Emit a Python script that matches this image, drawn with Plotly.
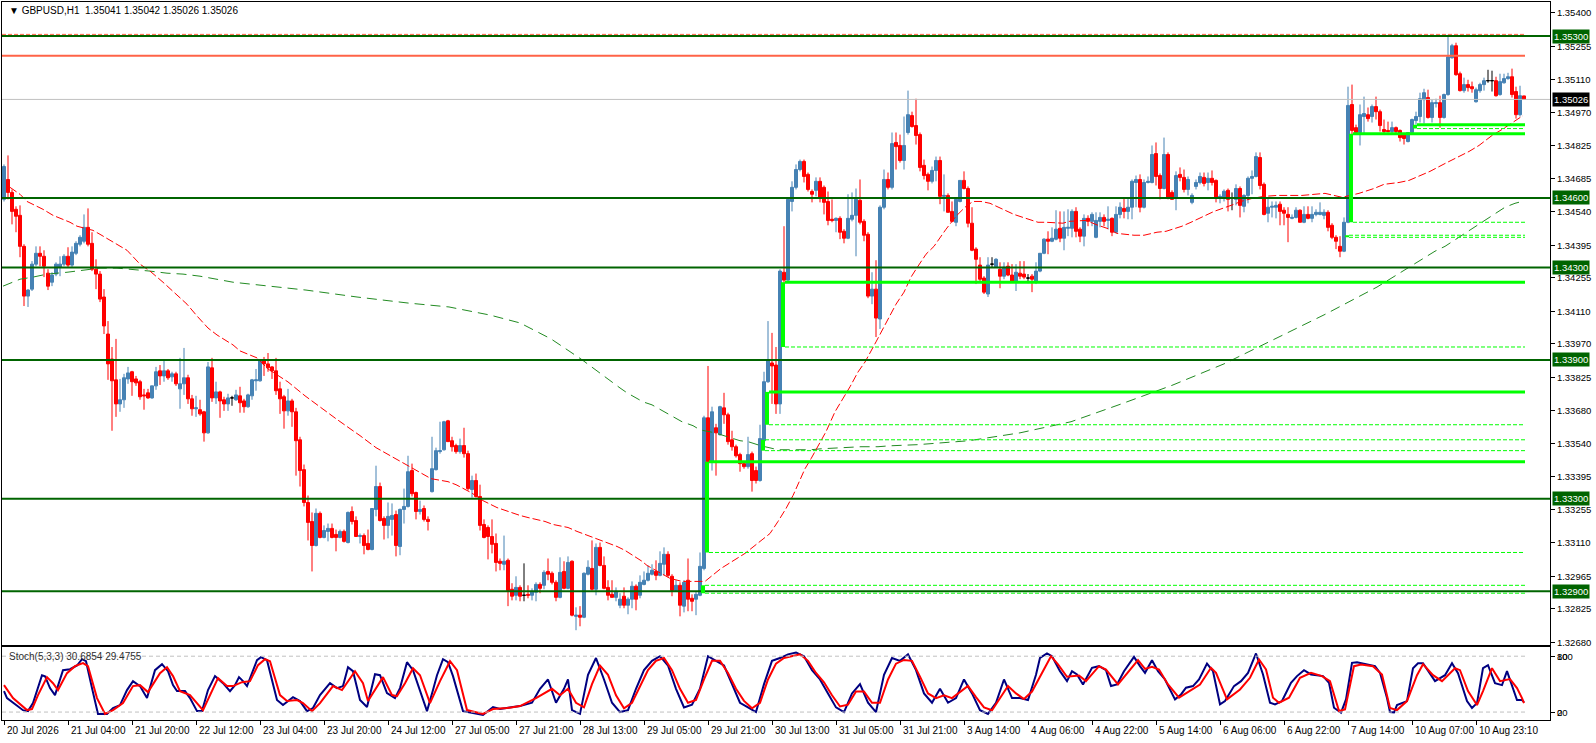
import plotly.graph_objects as go

W, H = 1596, 743

# ---------------- price data (H1 bars, index 0 = 20 Jul 12:00) ----------------
OPEN = [
1.34594,1.34680,1.34624,1.34551,1.34525,1.34391,1.34176,1.34206,1.34314,1.34361,
1.34348,1.34275,1.34236,1.34271,1.34301,1.34314,1.34348,1.34310,1.34361,1.34400,
1.34413,1.34473,1.34404,1.34292,1.34271,1.34172,1.34012,1.33904,1.33814,1.33710,
1.33728,1.33818,1.33849,1.33818,1.33806,1.33749,1.33758,1.33736,1.33788,1.33853,
1.33831,1.33853,1.33827,1.33840,1.33775,1.33797,1.33823,1.33732,1.33689,1.33685,
1.33676,1.33585,1.33866,1.33736,1.33762,1.33728,1.33710,1.33736,1.33728,1.33745,
1.33723,1.33698,1.33745,1.33810,1.33810,1.33896,1.33883,1.33870,1.33853,1.33775,
1.33741,1.33680,1.33723,1.33676,1.33555,1.33426,1.33284,1.33202,1.33098,1.33237,
1.33133,1.33159,1.33172,1.33146,1.33133,1.33159,1.33111,1.33245,1.33206,1.33137,
1.33141,1.33107,1.33081,1.33254,1.33353,1.33215,1.33185,1.33211,1.33232,1.33094,
1.33254,1.33267,1.33422,1.33327,1.33245,1.33258,1.33211,1.33331,1.33426,1.33504,
1.33512,1.33637,1.33551,1.33530,1.33504,1.33530,1.33495,1.33340,1.33379,1.33310,
1.33189,1.33176,1.33137,1.33107,1.33030,1.33017,1.33034,1.32909,1.32883,1.32917,
1.32883,1.32887,1.32883,1.32896,1.32930,1.32926,1.32986,1.32978,1.32939,1.32874,
1.32986,1.32913,1.33030,1.32792,1.32797,1.32788,1.32974,1.32999,1.32909,1.33090,
1.33012,1.32917,1.32887,1.32874,1.32840,1.32879,1.32840,1.32866,1.32922,1.32883,
1.32930,1.32948,1.32974,1.32986,1.32969,1.33017,1.33060,1.32965,1.32904,1.32926,
1.32836,1.32948,1.32870,1.32866,1.32883,1.32999,1.33650,1.33460,1.33607,1.33577,
1.33693,1.33663,1.33555,1.33525,1.33491,1.33452,1.33439,1.33495,1.33422,1.33379,
1.33551,1.33806,1.33887,1.33878,1.33710,1.34279,1.34245,1.34585,1.34646,1.34723,
1.34758,1.34702,1.34628,1.34633,1.34672,1.34646,1.34585,1.34508,1.34503,1.34512,
1.34456,1.34426,1.34508,1.34525,1.34590,1.34499,1.34443,1.34176,1.34206,1.34077,
1.34560,1.34680,1.34646,1.34840,1.34827,1.34762,1.34883,1.34956,1.34913,1.34874,
1.34741,1.34702,1.34672,1.34719,1.34762,1.34607,1.34611,1.34542,1.34495,1.34585,
1.34676,1.34641,1.34491,1.34379,1.34310,1.34254,1.34185,1.34314,1.34301,1.34292,
1.34262,1.34305,1.34267,1.34241,1.34275,1.34271,1.34254,1.34262,1.34241,1.34284,
1.34361,1.34422,1.34413,1.34422,1.34469,1.34426,1.34469,1.34469,1.34542,1.34465,
1.34435,1.34512,1.34499,1.34430,1.34499,1.34516,1.34503,1.34512,1.34452,1.34529,
1.34555,1.34542,1.34560,1.34667,1.34680,1.34560,1.34667,1.34667,1.34792,1.34697,
1.34641,1.34788,1.34624,1.34603,1.34702,1.34689,1.34637,1.34581,1.34650,1.34667,
1.34689,1.34667,1.34685,1.34676,1.34598,1.34598,1.34633,1.34598,1.34594,1.34641,
1.34564,1.34611,1.34685,1.34693,1.34775,1.34659,1.34534,1.34560,1.34560,1.34573,
1.34547,1.34529,1.34512,1.34516,1.34547,1.34495,1.34529,1.34512,1.34529,1.34529,
1.34525,1.34538,1.34482,1.34430,1.34391,1.34370,1.34495,1.35004,1.34904,1.34883,
1.34952,1.34960,1.34952,1.34995,1.34973,1.34896,1.34892,1.34887,1.34904,1.34892,
1.34874,1.34844,1.34883,1.34935,1.34952,1.35025,1.35034,1.34948,1.35008,1.35012,
1.34948,1.35047,1.35206,1.35258,1.35137,1.35064,1.35090,1.35081,1.35016,1.35064,
1.35090,1.35107,1.35107,1.35107,1.35047,1.35098,1.35116,1.35124,1.35060,1.34960,1.35041]

HIGH = [
1.34745,1.34784,1.34637,1.34564,1.34568,1.34400,1.34206,1.34327,1.34391,1.34391,
1.34374,1.34292,1.34279,1.34322,1.34348,1.34357,1.34387,1.34391,1.34413,1.34439,
1.34529,1.34555,1.34452,1.34335,1.34284,1.34206,1.34068,1.33956,1.33991,1.33818,
1.33840,1.33870,1.33853,1.33831,1.33814,1.33775,1.33775,1.33788,1.33870,1.33878,
1.33900,1.33861,1.33849,1.33849,1.33909,1.33952,1.33836,1.33749,1.33745,1.33728,
1.33680,1.33891,1.33909,1.33806,1.33767,1.33741,1.33754,1.33745,1.33771,1.33784,
1.33732,1.33754,1.33818,1.33861,1.33900,1.33913,1.33930,1.33874,1.33909,1.33806,
1.33749,1.33775,1.33732,1.33693,1.33568,1.33448,1.33314,1.33241,1.33258,1.33245,
1.33185,1.33193,1.33193,1.33167,1.33167,1.33167,1.33245,1.33267,1.33224,1.33150,
1.33150,1.33167,1.33258,1.33443,1.33370,1.33224,1.33284,1.33280,1.33249,1.33258,
1.33344,1.33486,1.33452,1.33331,1.33292,1.33271,1.33224,1.33568,1.33521,1.33633,
1.33637,1.33641,1.33568,1.33538,1.33560,1.33607,1.33508,1.33400,1.33409,1.33361,
1.33211,1.33185,1.33211,1.33150,1.33042,1.33141,1.33042,1.32935,1.32965,1.32926,
1.33021,1.32926,1.32913,1.32939,1.32939,1.32991,1.33042,1.32986,1.32948,1.33047,
1.33030,1.33051,1.33034,1.32831,1.32836,1.32982,1.33034,1.33120,1.33107,1.33111,
1.33051,1.32948,1.32948,1.32917,1.32892,1.32917,1.32874,1.32943,1.32930,1.32969,
1.32986,1.33012,1.33017,1.33034,1.33073,1.33090,1.33073,1.32974,1.32948,1.32939,
1.32948,1.33042,1.32887,1.32900,1.33068,1.33659,1.33874,1.33698,1.33624,1.33702,
1.33758,1.33672,1.33594,1.33534,1.33499,1.33460,1.33568,1.33504,1.33439,1.33620,
1.33849,1.34068,1.34017,1.33956,1.34292,1.34478,1.34603,1.34672,1.34745,1.34766,
1.34766,1.34710,1.34637,1.34689,1.34689,1.34654,1.34628,1.34594,1.34516,1.34521,
1.34465,1.34616,1.34624,1.34641,1.34680,1.34508,1.34452,1.34279,1.34331,1.34568,
1.34723,1.34710,1.34883,1.34883,1.34874,1.34952,1.35064,1.34973,1.35029,1.34883,
1.34766,1.34710,1.34736,1.34779,1.34779,1.34702,1.34620,1.34585,1.34603,1.34676,
1.34715,1.34650,1.34560,1.34387,1.34344,1.34262,1.34344,1.34344,1.34340,1.34322,
1.34322,1.34322,1.34314,1.34314,1.34327,1.34327,1.34271,1.34271,1.34322,1.34361,
1.34426,1.34456,1.34473,1.34547,1.34542,1.34542,1.34551,1.34551,1.34560,1.34473,
1.34529,1.34525,1.34538,1.34538,1.34538,1.34529,1.34564,1.34516,1.34564,1.34581,
1.34598,1.34603,1.34680,1.34697,1.34702,1.34680,1.34693,1.34827,1.34840,1.34706,
1.34861,1.34797,1.34633,1.34715,1.34732,1.34723,1.34693,1.34620,1.34680,1.34710,
1.34710,1.34710,1.34719,1.34680,1.34616,1.34637,1.34641,1.34624,1.34659,1.34650,
1.34616,1.34693,1.34719,1.34797,1.34797,1.34667,1.34603,1.34585,1.34585,1.34585,
1.34560,1.34560,1.34529,1.34560,1.34551,1.34564,1.34564,1.34564,1.34551,1.34581,
1.34551,1.34547,1.34491,1.34439,1.34435,1.34516,1.35081,1.35090,1.34917,1.35004,
1.35038,1.34991,1.35004,1.35038,1.34982,1.34939,1.34930,1.34930,1.34909,1.34896,
1.34878,1.34883,1.34943,1.34973,1.35055,1.35072,1.35068,1.35025,1.35029,1.35042,
1.35051,1.35305,1.35266,1.35271,1.35146,1.35120,1.35111,1.35103,1.35077,1.35098,
1.35120,1.35154,1.35150,1.35124,1.35137,1.35137,1.35141,1.35159,1.35081,1.35085,1.35042]

LOW = [
1.34585,1.34594,1.34486,1.34452,1.34344,1.34133,1.34129,1.34198,1.34305,1.34305,
1.34258,1.34202,1.34219,1.34262,1.34262,1.34305,1.34301,1.34301,1.34353,1.34391,
1.34404,1.34391,1.34284,1.34206,1.34150,1.34012,1.33814,1.33594,1.33654,1.33676,
1.33693,1.33797,1.33745,1.33788,1.33728,1.33685,1.33732,1.33732,1.33771,1.33792,
1.33806,1.33814,1.33806,1.33788,1.33689,1.33749,1.33710,1.33659,1.33654,1.33659,
1.33547,1.33581,1.33719,1.33710,1.33650,1.33680,1.33680,1.33702,1.33723,1.33672,
1.33672,1.33693,1.33728,1.33767,1.33806,1.33831,1.33849,1.33818,1.33749,1.33667,
1.33603,1.33659,1.33611,1.33400,1.33353,1.33267,1.33120,1.32986,1.33094,1.33129,
1.33129,1.33116,1.33129,1.33073,1.33129,1.33111,1.33107,1.33189,1.33137,1.33107,
1.33060,1.33077,1.33077,1.33224,1.33202,1.33124,1.33129,1.33141,1.33051,1.33056,
1.33193,1.33262,1.33310,1.33211,1.33232,1.33202,1.33163,1.33327,1.33422,1.33495,
1.33508,1.33547,1.33504,1.33495,1.33495,1.33478,1.33336,1.33305,1.33305,1.33163,
1.33129,1.33038,1.33064,1.32986,1.32991,1.32991,1.32836,1.32861,1.32861,1.32857,
1.32857,1.32870,1.32861,1.32857,1.32892,1.32909,1.32948,1.32930,1.32857,1.32870,
1.32909,1.32909,1.32792,1.32732,1.32749,1.32784,1.32969,1.32904,1.32883,1.33008,
1.32909,1.32861,1.32874,1.32857,1.32827,1.32827,1.32801,1.32827,1.32818,1.32870,
1.32926,1.32943,1.32969,1.32948,1.32965,1.32969,1.32961,1.32879,1.32900,1.32792,
1.32809,1.32814,1.32814,1.32797,1.32879,1.32991,1.33422,1.33422,1.33400,1.33573,
1.33624,1.33534,1.33508,1.33478,1.33417,1.33430,1.33430,1.33331,1.33366,1.33374,
1.33547,1.33801,1.33710,1.33667,1.33667,1.34228,1.34236,1.34542,1.34637,1.34715,
1.34667,1.34628,1.34581,1.34607,1.34581,1.34529,1.34482,1.34495,1.34452,1.34422,
1.34404,1.34422,1.34499,1.34348,1.34486,1.34413,1.34167,1.34141,1.33999,1.34034,
1.34551,1.34637,1.34637,1.34723,1.34753,1.34723,1.34874,1.34904,1.34831,1.34715,
1.34680,1.34633,1.34663,1.34672,1.34573,1.34542,1.34538,1.34495,1.34478,1.34581,
1.34637,1.34473,1.34370,1.34228,1.34236,1.34185,1.34172,1.34301,1.34301,1.34210,
1.34249,1.34262,1.34236,1.34198,1.34249,1.34249,1.34232,1.34193,1.34228,1.34279,
1.34357,1.34357,1.34409,1.34417,1.34409,1.34374,1.34435,1.34430,1.34430,1.34409,
1.34391,1.34478,1.34478,1.34426,1.34473,1.34478,1.34465,1.34435,1.34447,1.34512,
1.34512,1.34508,1.34508,1.34560,1.34538,1.34555,1.34663,1.34663,1.34654,1.34594,
1.34637,1.34594,1.34594,1.34547,1.34672,1.34624,1.34611,1.34573,1.34637,1.34659,
1.34650,1.34633,1.34654,1.34581,1.34577,1.34585,1.34542,1.34547,1.34568,1.34516,
1.34538,1.34577,1.34616,1.34689,1.34637,1.34525,1.34495,1.34516,1.34512,1.34482,
1.34482,1.34409,1.34508,1.34512,1.34495,1.34491,1.34508,1.34495,1.34521,1.34525,
1.34508,1.34456,1.34422,1.34379,1.34344,1.34366,1.34491,1.34840,1.34874,1.34827,
1.34874,1.34930,1.34926,1.34939,1.34887,1.34878,1.34883,1.34878,1.34874,1.34844,
1.34831,1.34840,1.34874,1.34917,1.34926,1.34922,1.34943,1.34926,1.34991,1.34904,
1.34943,1.35042,1.35202,1.35128,1.35060,1.35055,1.35060,1.35055,1.35012,1.35055,
1.35064,1.35098,1.35060,1.35038,1.35042,1.35094,1.35111,1.35034,1.34943,1.34952,1.35026]

CLOSE = [
1.34736,1.34624,1.34542,1.34521,1.34391,1.34176,1.34202,1.34314,1.34361,1.34348,
1.34305,1.34219,1.34267,1.34314,1.34314,1.34348,1.34310,1.34366,1.34404,1.34430,
1.34473,1.34400,1.34292,1.34271,1.34163,1.34047,1.33883,1.33810,1.33710,1.33728,
1.33823,1.33844,1.33806,1.33801,1.33741,1.33745,1.33736,1.33788,1.33849,1.33831,
1.33853,1.33823,1.33840,1.33797,1.33797,1.33823,1.33732,1.33689,1.33693,1.33667,
1.33585,1.33870,1.33736,1.33762,1.33723,1.33710,1.33736,1.33736,1.33749,1.33715,
1.33698,1.33749,1.33814,1.33814,1.33896,1.33883,1.33866,1.33853,1.33767,1.33732,
1.33680,1.33723,1.33676,1.33551,1.33422,1.33284,1.33198,1.33098,1.33237,1.33133,
1.33163,1.33172,1.33133,1.33133,1.33159,1.33116,1.33241,1.33202,1.33137,1.33141,
1.33098,1.33081,1.33258,1.33353,1.33206,1.33185,1.33224,1.33228,1.33098,1.33254,
1.33267,1.33417,1.33322,1.33245,1.33254,1.33211,1.33202,1.33430,1.33508,1.33508,
1.33633,1.33547,1.33525,1.33504,1.33530,1.33495,1.33344,1.33379,1.33310,1.33185,
1.33133,1.33137,1.33103,1.33025,1.33021,1.33030,1.32904,1.32879,1.32917,1.32879,
1.32883,1.32883,1.32900,1.32930,1.32913,1.32982,1.32974,1.32939,1.32874,1.32982,
1.32913,1.33025,1.32797,1.32797,1.32788,1.32978,1.33004,1.32909,1.33090,1.33012,
1.32913,1.32883,1.32874,1.32900,1.32866,1.32840,1.32866,1.32922,1.32866,1.32939,
1.32948,1.32978,1.32991,1.32969,1.33021,1.33060,1.32969,1.32904,1.32926,1.32840,
1.32939,1.32866,1.32857,1.32887,1.33008,1.33650,1.33460,1.33676,1.33585,1.33698,
1.33663,1.33547,1.33525,1.33486,1.33452,1.33439,1.33491,1.33379,1.33379,1.33560,
1.33806,1.33900,1.33874,1.33710,1.34284,1.34245,1.34594,1.34646,1.34723,1.34758,
1.34693,1.34637,1.34616,1.34672,1.34603,1.34581,1.34503,1.34503,1.34512,1.34452,
1.34426,1.34512,1.34525,1.34594,1.34495,1.34439,1.34176,1.34206,1.34081,1.34560,
1.34680,1.34646,1.34835,1.34822,1.34762,1.34827,1.34960,1.34909,1.34870,1.34732,
1.34697,1.34672,1.34719,1.34762,1.34607,1.34611,1.34538,1.34499,1.34594,1.34676,
1.34641,1.34491,1.34374,1.34335,1.34249,1.34193,1.34310,1.34314,1.34335,1.34262,
1.34301,1.34267,1.34241,1.34279,1.34262,1.34258,1.34254,1.34249,1.34284,1.34361,
1.34422,1.34413,1.34426,1.34465,1.34426,1.34473,1.34473,1.34542,1.34456,1.34435,
1.34512,1.34499,1.34529,1.34503,1.34516,1.34499,1.34508,1.34452,1.34529,1.34560,
1.34542,1.34560,1.34672,1.34680,1.34560,1.34667,1.34672,1.34788,1.34693,1.34641,
1.34788,1.34603,1.34594,1.34697,1.34689,1.34637,1.34680,1.34611,1.34667,1.34693,
1.34663,1.34685,1.34667,1.34598,1.34607,1.34629,1.34594,1.34598,1.34641,1.34568,
1.34611,1.34685,1.34693,1.34779,1.34654,1.34529,1.34560,1.34564,1.34568,1.34542,
1.34534,1.34516,1.34516,1.34547,1.34495,1.34529,1.34512,1.34529,1.34538,1.34538,
1.34538,1.34473,1.34430,1.34413,1.34370,1.34495,1.35000,1.34892,1.34883,1.34960,
1.34965,1.34943,1.34995,1.34973,1.34913,1.34887,1.34887,1.34904,1.34887,1.34861,
1.34857,1.34883,1.34939,1.34952,1.35029,1.35055,1.34948,1.35012,1.35012,1.34948,
1.35047,1.35210,1.35258,1.35133,1.35064,1.35090,1.35077,1.35072,1.35068,1.35090,
1.35107,1.35107,1.35107,1.35042,1.35103,1.35116,1.35124,1.35047,1.34960,1.35042,1.35026]

assert len(OPEN) == len(HIGH) == len(LOW) == len(CLOSE) == 381

# moving averages: (bar position, price)
MA_FAST = [(1.5,1.34646),(4,1.34616),(5.75,1.34585),(9.75,1.34551),(12.25,1.34525),(16.5,1.34495),
(18.25,1.34478),(22.25,1.34460),(24,1.34443),(28.25,1.34400),(30.75,1.34374),(34,1.34314),
(36.5,1.34284),(39.75,1.34236),(42.25,1.34198),(45.75,1.34141),(48.25,1.34090),(51,1.34038),
(53.25,1.34008),(57.25,1.33965),(59,1.33939),(63.25,1.33909),(66,1.33861),(71,1.33805),
(75.25,1.33745),(77.25,1.33719),(81,1.33672),(83,1.33646),(87.25,1.33594),(89,1.33573),
(93,1.33521),(95.25,1.33499),(99.25,1.33460),(101,1.33443),(105.25,1.33400),(106.75,1.33387),
(111,1.33374),(113,1.33361),(116.75,1.33327),(119.75,1.33292),(123.25,1.33262),(125.25,1.33249),
(129,1.33228),(131,1.33219),(135.25,1.33202),(137.25,1.33189),(141,1.33176),(143.25,1.33159),
(147.25,1.33133),(149,1.33124),(153.25,1.33094),(155.25,1.33077),(159.5,1.33030),(160.75,1.33012),
(166.5,1.32956),(169.5,1.32943),(175.25,1.32943),(177.75,1.32978),(179.25,1.32999),(185.25,1.33064),
(189.25,1.33120),(191.5,1.33150),(193.5,1.33202),(195.5,1.33258),(197.25,1.33314),(200.25,1.33430),
(201.75,1.33473),(203.5,1.33529),(205.5,1.33590),(207.75,1.33676),(209.25,1.33719),(211.5,1.33784),
(213.5,1.33848),(215.25,1.33891),(218,1.33978),(221.5,1.34090),(223,1.34141),(225,1.34193),
(226.75,1.34258),(228,1.34292),(230.5,1.34357),(232.5,1.34391),(235.5,1.34465),(238,1.34521),
(240.5,1.34564),(242.25,1.34585),(244.25,1.34585),(246.5,1.34577),(248.5,1.34560),(252.5,1.34529),
(254.75,1.34516),(258.5,1.34495),(260.5,1.34495),(264.75,1.34491),(266.25,1.34499),(270.5,1.34503),
(273.5,1.34482),(275.75,1.34469),(278.25,1.34447),(282.5,1.34439),(285,1.34439),(288.25,1.34452),
(290.5,1.34456),(294.5,1.34478),(296.75,1.34495),(300.5,1.34525),(302.5,1.34542),(306.75,1.34568),
(309.25,1.34585),(312,1.34598),(315,1.34607),(318.25,1.34611),(320.5,1.34611),(324.5,1.34611),
(330.25,1.34620),(334.5,1.34603),(338.75,1.34620),(342.5,1.34641),(345,1.34659),(348.75,1.34667),
(351.25,1.34676),(354.5,1.34702),(356.5,1.34715),(360.25,1.34749),(362.75,1.34771),(366.25,1.34801),
(368.75,1.34827),(372,1.34870),(374.5,1.34896),(378.75,1.34943),(379.75,1.34956)]

MA_SLOW = [(-0.25,1.34219),(4,1.34249),(7.25,1.34258),(10.75,1.34271),(15.75,1.34279),(19.75,1.34288),
(24,1.34297),(28.25,1.34297),(32.25,1.34292),(36.5,1.34284),(40.75,1.34275),(44.75,1.34271),
(49,1.34262),(53.25,1.34249),(57.25,1.34236),(61.5,1.34228),(64,1.34223),(75.5,1.34202),
(88.25,1.34172),(101,1.34146),(111.25,1.34129),(121.5,1.34094),(129,1.34060),(136.75,1.33991),
(144.25,1.33904),(150.75,1.33818),(154,1.33779),(155.75,1.33758),(159.75,1.33719),(162,1.33706),
(166,1.33667),(167.75,1.33650),(169.5,1.33633),(172.25,1.33616),(174,1.33598),(177.75,1.33585),
(184,1.33551),(186,1.33547),(189.25,1.33529),(193.5,1.33512),(197.75,1.33512),(201.75,1.33512),
(204.25,1.33516),(210.25,1.33521),(214.25,1.33525),(218.5,1.33525),(221.5,1.33529),(228.5,1.33534),
(241.25,1.33551),(254,1.33585),(266.75,1.33633),(279.5,1.33711),(292.25,1.33792),(305,1.33883),
(317.75,1.33991),(330.5,1.34099),(343.25,1.34215),(351.25,1.34301),(354.5,1.34335),(357.75,1.34370),
(360.25,1.34391),(363.75,1.34430),(366.25,1.34456),(369.5,1.34495),(372,1.34521),(375.25,1.34560),
(377.75,1.34577),(379.5,1.34585)]

# Stochastic (5,3,3): (bar position, value)
STOCH_MAIN = [(0,42.5),(0.75,35),(4.75,22),(6,21),(7.25,29.6),(9.5,59.6),(10.25,58.5),(11.5,45.7),
(12.75,38.2),(14.75,65),(16.5,66),(18.25,70),(19.5,76.8),(20.5,74.6),(22,45.7),(23.5,17.9),(25.75,17.9),
(27.25,24.3),(29,27.5),(30.75,43.6),(32.25,53.2),(34,47.9),(35.75,35),(37.75,65),(39.5,71.4),(41,63.9),
(42.25,48.9),(43.25,42.5),(45.25,42.5),(46.5,35),(48.25,21),(49.5,21),(51,43.6),(52.75,58.6),(54.75,51),
(56.5,42.5),(57.75,48.9),(58.75,57.5),(59.75,53.2),(60.75,47.9),(62,61.8),(63.25,75.7),(64.25,78.9),
(65.75,75.7),(68.25,32.9),(69.75,27.5),(72.25,36),(74,31.8),(75.75,21),(77.25,24.3),(79,38.2),(81.5,51),
(83.25,45.7),(84.75,47.9),(86,68.2),(87.25,63.9),(89,32.9),(90.75,25.4),(92.75,60.7),(94,59.6),
(95.75,40.4),(97.75,35),(99,45.7),(100.75,73.6),(102.25,65),(104,42.5),(105.75,21),(107.25,43.6),
(108.25,59.6),(109.75,76.8),(111,73.6),(112.25,58.6),(114.75,21),(117.25,18.9),(119.75,16.8),
(122.25,25.4),(124,23.2),(127.25,25.4),(129,26.4),(132,30),(134,45),(136,55),(138,30),(140,45),
(141,55),(142,22),(144,18),(146,60),(148,78),(150,55),(152,30),(154,20),(156,22),(158,45),(160,65),
(162,75),(164,80),(166,70),(168,45),(170,25),(172,28),(174,45),(176,80),(178,75),(180,70),(182,50),
(184,30),(186,25),(188,20),(190,50),(192,75),(194,78),(196,82),(198,84),(200,80),(202,65),(204,55),
(206,40),(208,25),(210,20),(212,40),(214,50),(216,30),(218,20),(220,60),(222,78),(224,75),(226,82),
(228,65),(230,40),(232,30),(234,45),(236,30),(238,35),(240,55),(242,40),(244,22),(246,18),(248,30),
(250,55),(252,35),(254,35),(256,33),(258,60),(259,78.2),(260.75,82.9),(262,80),(264,63.9),
(265.75,53.2),(267,63.9),(268.25,60.4),(269.75,49.6),(272,67.5),(273.75,69.3),(275.5,65),(276.75,47.9),
(278.25,49.6),(280,63.9),(282.5,79.3),(284,69.3),(285.25,62.1),(287,75.7),(288.5,63.9),(290.25,55),
(292.75,33.6),(294.25,38.9),(295.5,46.1),(297.25,47.9),(298.75,55),(300.75,72.1),(302.25,63.9),
(304,28.2),(305.25,31.8),(307.5,47.9),(309.25,53.2),(311,62.1),(313,82.9),(314.75,60.4),(316.5,30),
(317.75,28.2),(319.5,31.8),(321.75,51.4),(323.25,58.6),(325,65),(326.75,60.4),(329.75,58.6),
(331.25,51.4),(332.5,24.6),(334.25,19.3),(335.5,33.6),(337,72.9),(338.25,73.6),(340,72.1),
(342.75,69.3),(344,62.1),(345.75,35),(346.5,20),(347.5,19.5),(348.25,27.5),(350.75,31.8),(352.25,67.1),
(353.5,72.5),(354.75,72.5),(356,63.9),(357.75,53.2),(360.25,59.6),(362,72.5),(363.5,61.8),(365.75,31.8),
(367,24.3),(368.25,29.6),(369.75,67.1),(371,70.4),(372.75,51),(374.5,48.9),(375.75,63.9),(377,48.9),
(378.25,32.9),(379.5,32.9),(380,30.7)]

STOCH_SIGNAL = [(0,48.9),(2.25,35),(5.75,22.1),(7,23.2),(8.5,38.2),(10.75,57.5),(12.25,51),(13.5,43.6),
(15.75,61.8),(17.75,69.3),(19.75,72.5),(21,69.3),(23.25,35),(25.25,17.9),(27.25,22.1),(29.75,29.6),
(32.25,47.9),(34,48.9),(36,41.4),(39,61.8),(40.75,68.2),(42.25,58.6),(44,42.5),(46.5,38.2),(49.75,22.1),
(51.5,38.2),(53.5,56.4),(55.75,47.9),(57.25,47.9),(59.5,52.1),(61.5,53.2),(63.5,70.4),(65.25,76.8),
(66.5,74.6),(69,38.2),(70.75,31.8),(73.25,32.9),(74.75,29.6),(77,21),(79,29.6),(82.25,47.9),(84.5,43.6),
(87.75,63.9),(89.75,51),(91,31.8),(94.75,57.5),(97,38.2),(98.25,37.1),(100.25,51),(102.25,67.1),
(104,59.6),(106.5,29.6),(109,53.2),(111.5,74.6),(113.25,65),(115.75,22.1),(119.75,17.9),(122.25,23.2),
(125.75,24.3),(129,26.4),(133,35),(137,45),(139,38),(141,45),(143,30),(145,25),(147,50),(149,70),
(151,60),(153,38),(155,24),(157,30),(159,48),(161,65),(163,75),(165,78),(167,65),(169,45),(171,30),
(173,33),(175,55),(177,75),(179,75),(181,62),(183,45),(185,32),(187,24),(189,30),(191,55),(193,72),
(195,78),(197,80),(199,82),(201,75),(203,62),(205,52),(207,38),(209,26),(211,28),(213,42),(215,42),
(217,30),(219,30),(221,55),(223,72),(225,76),(227,75),(229,58),(231,40),(233,35),(235,38),(237,35),
(239,42),(241,48),(243,36),(245,25),(247,22),(249,35),(251,48),(253,40),(255,34),(257,42),(259,58.6),
(261.75,80),(263.5,71.1),(265.75,57.9),(268.75,59.3),(270.5,53.2),(273.75,69.3),(275.5,65.7),
(278.5,49.6),(281.25,63.9),(283.5,75.7),(285.25,66.4),(287,68.6),(288.75,65.7),(291,49.6),(293.75,35.4),
(296.5,42.5),(299,49.6),(301.75,67.5),(303,62.1),(305.75,33.6),(309,44.3),(311.5,56.8),(313.75,76.4),
(315.5,65.7),(317.25,35.4),(318.75,30),(321.25,35.4),(324,56.8),(326.75,62.1),(329.5,58.6),(331.5,53.2),
(333.75,21.1),(335.25,22.9),(337.5,69.3),(339.25,71.1),(342.25,69.3),(344.5,60.4),(346.5,24.3),
(348.25,22.1),(350.75,31.8),(353.25,59.6),(354.75,71.4),(357.25,59.6),(359.5,53.2),(360.75,58.6),
(362.75,67.1),(364,65),(366,42.5),(368.25,27.5),(369.75,42.5),(372,67.1),(374,53.2),(376.5,55.4),
(378.25,45.7),(379.5,35),(380,29.5)]

# horizontal levels
SR_LEVELS = [1.35300, 1.34600, 1.34300, 1.33900, 1.33300, 1.32900]
RED_LEVEL = 1.35215
HIGH_MARK = 1.35307
BID = 1.35026

# imbalance zones: bar, lower, upper, upper drawn solid?
ZONE_BAR = [174, 175, 189, 190, 194, 335, 336, 352]
ZONE_LOW = [1.32892, 1.33068, 1.33508, 1.33620, 1.33956, 1.34430, 1.34495, 1.34900]
ZONE_HIGH = [1.32926, 1.33460, 1.33555, 1.33762, 1.34236, 1.34439, 1.34878, 1.34917]
ZONE_SOLID = [False, True, False, True, True, False, True, True]

PRICE_TICKS = [1.35400, 1.35255, 1.35110, 1.34970, 1.34825, 1.34685, 1.34540, 1.34395, 1.34255,
               1.34110, 1.33970, 1.33825, 1.33680, 1.33540, 1.33395, 1.33255, 1.33110, 1.32965,
               1.32825, 1.32680]

TIME_LABELS = ["20 Jul 2026", "21 Jul 04:00", "21 Jul 20:00", "22 Jul 12:00", "23 Jul 04:00",
               "23 Jul 20:00", "24 Jul 12:00", "27 Jul 05:00", "27 Jul 21:00", "28 Jul 13:00",
               "29 Jul 05:00", "29 Jul 21:00", "30 Jul 13:00", "31 Jul 05:00", "31 Jul 21:00",
               "3 Aug 14:00", "4 Aug 06:00", "4 Aug 22:00", "5 Aug 14:00", "6 Aug 06:00",
               "6 Aug 22:00", "7 Aug 14:00", "10 Aug 07:00", "10 Aug 23:10"]
TIME_STEP = 16

# ---------------- styling ----------------
FONT = "Liberation Sans"
BULL = "#4682B4"
BEAR = "#FF0000"
DKGREEN = "#006400"
LIME = "#00FF00"
TOMATO = "#FF6347"

N = len(OPEN)
LAST = N - 1
XR = [-0.5, 386.5]

fig = go.Figure()

idx = list(range(N))
norm = [i for i in idx if OPEN[i] != CLOSE[i]]
doji = [i for i in idx if OPEN[i] == CLOSE[i]]

fig.add_trace(go.Candlestick(
    x=norm, open=[OPEN[i] for i in norm], high=[HIGH[i] for i in norm],
    low=[LOW[i] for i in norm], close=[CLOSE[i] for i in norm],
    increasing=dict(line=dict(color=BULL, width=1), fillcolor=BULL),
    decreasing=dict(line=dict(color=BEAR, width=1), fillcolor=BEAR),
    whiskerwidth=0, xaxis="x", yaxis="y", showlegend=False, hoverinfo="skip"))
fig.add_trace(go.Candlestick(
    x=doji, open=[OPEN[i] for i in doji], high=[HIGH[i] for i in doji],
    low=[LOW[i] for i in doji], close=[CLOSE[i] for i in doji],
    increasing=dict(line=dict(color="black", width=1), fillcolor="black"),
    decreasing=dict(line=dict(color="black", width=1), fillcolor="black"),
    whiskerwidth=0, xaxis="x", yaxis="y", showlegend=False, hoverinfo="skip"))

fig.add_trace(go.Scatter(x=[p[0] for p in MA_SLOW], y=[p[1] for p in MA_SLOW], mode="lines",
                         line=dict(color="#228B22", width=1, dash="10px,6px"),
                         xaxis="x", yaxis="y", showlegend=False, hoverinfo="skip"))
fig.add_trace(go.Scatter(x=[p[0] for p in MA_FAST], y=[p[1] for p in MA_FAST], mode="lines",
                         line=dict(color="#FF0000", width=1, dash="8px,3px"),
                         xaxis="x", yaxis="y", showlegend=False, hoverinfo="skip"))

fig.add_trace(go.Scatter(x=[p[0] for p in STOCH_MAIN], y=[p[1] for p in STOCH_MAIN], mode="lines",
                         line=dict(color="#000080", width=2),
                         xaxis="x2", yaxis="y2", showlegend=False, hoverinfo="skip"))
fig.add_trace(go.Scatter(x=[p[0] for p in STOCH_SIGNAL], y=[p[1] for p in STOCH_SIGNAL], mode="lines",
                         line=dict(color="#FF0000", width=2),
                         xaxis="x2", yaxis="y2", showlegend=False, hoverinfo="skip"))

shapes = []
end_x = LAST + 0.25
# bid line
shapes.append(dict(type="line", xref="x", yref="y", x0=XR[0], x1=XR[1], y0=BID, y1=BID,
                   line=dict(color="#C0C0C0", width=1)))
# red resistance & dashed high marker
shapes.append(dict(type="line", xref="x", yref="y", x0=XR[0], x1=end_x, y0=RED_LEVEL, y1=RED_LEVEL,
                   line=dict(color=TOMATO, width=2)))
for lv in SR_LEVELS:
    shapes.append(dict(type="line", xref="x", yref="y", x0=XR[0], x1=XR[1], y0=lv, y1=lv,
                       line=dict(color=DKGREEN, width=2)))
shapes.append(dict(type="line", xref="x", yref="y", x0=XR[0], x1=end_x, y0=HIGH_MARK, y1=HIGH_MARK,
                   line=dict(color=TOMATO, width=1, dash="4px,2px")))
# imbalance zones
for b, lo, hi, solid in zip(ZONE_BAR, ZONE_LOW, ZONE_HIGH, ZONE_SOLID):
    xs = b + 0.75
    shapes.append(dict(type="line", xref="x", yref="y", x0=xs, x1=xs, y0=lo, y1=hi,
                       line=dict(color=LIME, width=4)))
    shapes.append(dict(type="line", xref="x", yref="y", x0=xs + 0.5, x1=end_x, y0=lo, y1=lo,
                       line=dict(color=LIME, width=1, dash="4px,2px")))
    if solid:
        shapes.append(dict(type="line", xref="x", yref="y", x0=xs + 0.5, x1=end_x, y0=hi, y1=hi,
                           line=dict(color=LIME, width=3)))
    else:
        shapes.append(dict(type="line", xref="x", yref="y", x0=xs + 0.5, x1=end_x, y0=hi, y1=hi,
                           line=dict(color=LIME, width=1, dash="4px,2px")))
# stochastic levels
for lv in (80, 20):
    shapes.append(dict(type="line", xref="x2", yref="y2", x0=XR[0], x1=end_x, y0=lv, y1=lv,
                       line=dict(color="#C0C0C0", width=1, dash="4px,3px")))

annotations = []
annotations.append(dict(xref="paper", yref="paper", x=7 / W, y=1 - 11 / H, xanchor="left", yanchor="middle",
                        text="\u25BC GBPUSD,H1\u00a0\u00a01.35041 1.35042 1.35026 1.35026",
                        showarrow=False, font=dict(family=FONT, size=10, color="black")))
annotations.append(dict(xref="paper", yref="paper", x=7 / W, y=1 - 658 / H, xanchor="left", yanchor="middle",
                        text="Stoch(5,3,3) 30.6854 29.4755", showarrow=False,
                        font=dict(family=FONT, size=10, color="#303030")))
box_x = 1552 / W
for lv in SR_LEVELS:
    annotations.append(dict(xref="paper", yref="y", x=box_x, y=lv, xanchor="left", yanchor="middle",
                            text=f"{lv:.5f}", showarrow=False, bgcolor=DKGREEN, borderpad=1,
                            font=dict(family=FONT, size=9.5, color="white")))
annotations.append(dict(xref="paper", yref="y", x=box_x, y=BID, xanchor="left", yanchor="middle",
                        text=f"{BID:.5f}", showarrow=False, bgcolor="black", borderpad=1,
                        font=dict(family=FONT, size=9.5, color="white")))
for txt, lv in (("100", 80), ("80", 80), ("20", 20), ("0", 20)):
    annotations.append(dict(xref="paper", yref="y2", x=1555 / W, y=lv, xanchor="left", yanchor="middle",
                            text=txt, showarrow=False, font=dict(family=FONT, size=9.5, color="black")))
for k, lab in enumerate(TIME_LABELS):
    annotations.append(dict(xref="x2", yref="paper", x=k * TIME_STEP + 0.3, y=1 - 732 / H,
                            xanchor="left", yanchor="middle", text=lab, showarrow=False,
                            font=dict(family=FONT, size=10, color="black")))

axis_common = dict(showgrid=False, zeroline=False, showline=True, mirror=True,
                   linecolor="black", linewidth=1, fixedrange=True)

fig.update_layout(
    width=W, height=H, autosize=False,
    margin=dict(l=0, r=0, t=0, b=0, pad=0),
    paper_bgcolor="white", plot_bgcolor="white",
    showlegend=False, boxgap=0.25, boxgroupgap=0,
    xaxis=dict(domain=[2 / W, 1550 / W], range=XR, anchor="y", showticklabels=False, ticks="",
               rangeslider=dict(visible=False), **axis_common),
    yaxis=dict(domain=[1 - 647 / H, 1 - 2 / H], range=[1.32667, 1.35447], anchor="x", side="right",
               tickvals=PRICE_TICKS, ticktext=[f"{v:.5f}" for v in PRICE_TICKS],
               ticks="outside", ticklen=4, tickcolor="black",
               tickfont=dict(family=FONT, size=9.5, color="black"), **axis_common),
    xaxis2=dict(domain=[2 / W, 1550 / W], range=XR, anchor="y2",
                tickvals=[k * TIME_STEP for k in range(len(TIME_LABELS))],
                showticklabels=False, ticks="outside", ticklen=4, tickcolor="black", **axis_common),
    yaxis2=dict(domain=[1 - 722 / H, 1 - 649 / H], range=[11.4, 89.6], anchor="x2", side="right",
                tickvals=[20, 80], showticklabels=False, ticks="outside", ticklen=4, tickcolor="black",
                **axis_common),
    shapes=shapes, annotations=annotations,
)

fig.write_html("out.html",
               config={"displayModeBar": False},
               post_script="document.body.style.margin='0';document.body.style.padding='0';"
                           "document.body.style.overflow='hidden';")
